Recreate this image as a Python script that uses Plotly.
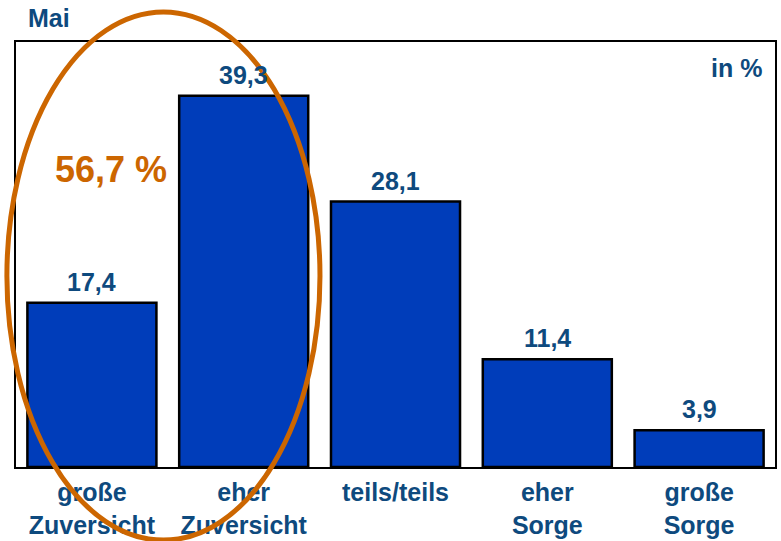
import plotly.graph_objects as go

categories = ["große<br>Zuversicht", "eher<br>Zuversicht", "teils/teils", "eher<br>Sorge", "große<br>Sorge"]
values = [17.4, 39.3, 28.1, 11.4, 3.9]
value_labels = ["17,4", "39,3", "28,1", "11,4", "3,9"]
month_label = "Mai"
unit_label = "in %"
highlight_label = "56,7 %"

FONT = "Liberation Sans, Arial, sans-serif"
TXT = "#0E4A7E"
ORANGE = "#CC6600"
BAR = "#003DBA"

fig = go.Figure()
fig.add_trace(go.Bar(
    x=categories, y=values,
    marker=dict(color=BAR, line=dict(color="black", width=2.5)),
    hoverinfo="skip",
))

for c, v, t in zip(categories, values, value_labels):
    fig.add_annotation(x=c, y=v, text="<b>%s</b>" % t, showarrow=False,
                       xref="x", yref="y", yanchor="bottom", yshift=5,
                       font=dict(family=FONT, size=25, color=TXT))

fig.add_annotation(x=0, y=1.0, xref="paper", yref="paper", xanchor="left", yanchor="bottom",
                   xshift=10, yshift=8, text="<b>%s</b>" % month_label, showarrow=False,
                   font=dict(family=FONT, size=25, color=TXT))
fig.add_annotation(x=1, y=1, xref="paper", yref="paper", xanchor="right", yanchor="top",
                   xshift=-11, yshift=-10, text="<b>%s</b>" % unit_label, showarrow=False,
                   font=dict(family=FONT, size=25, color=TXT))
fig.add_annotation(x=0.125, y=0.699, xref="paper", yref="paper", xanchor="center", yanchor="middle",
                   text="<b>%s</b>" % highlight_label, showarrow=False,
                   font=dict(family=FONT, size=36, color=ORANGE))

fig.add_shape(type="circle", xref="paper", yref="paper",
              x0=-0.012, x1=0.4005, y0=-0.172, y1=1.0706,
              line=dict(color=ORANGE, width=5), layer="above")

fig.update_layout(
    width=781, height=541,
    margin=dict(l=16, r=6, t=42, b=74, autoexpand=False),
    paper_bgcolor="white", plot_bgcolor="white",
    bargap=0.15,
    showlegend=False,
    xaxis=dict(showline=True, linecolor="black", linewidth=2, mirror=True, automargin=False,
               ticks="", tickfont=dict(family=FONT, size=25, color=TXT),
               ticklabelstandoff=2),
    yaxis=dict(range=[0, 45], showticklabels=False, showgrid=False, zeroline=False, automargin=False,
               showline=True, linecolor="black", linewidth=2, mirror=True, ticks=""),
)
fig.update_xaxes(tickprefix="<b>", ticksuffix="</b>")

fig.write_html("out.html", config={"displayModeBar": False},
               post_script="document.body.style.margin='0px';document.body.style.overflow='hidden';")
